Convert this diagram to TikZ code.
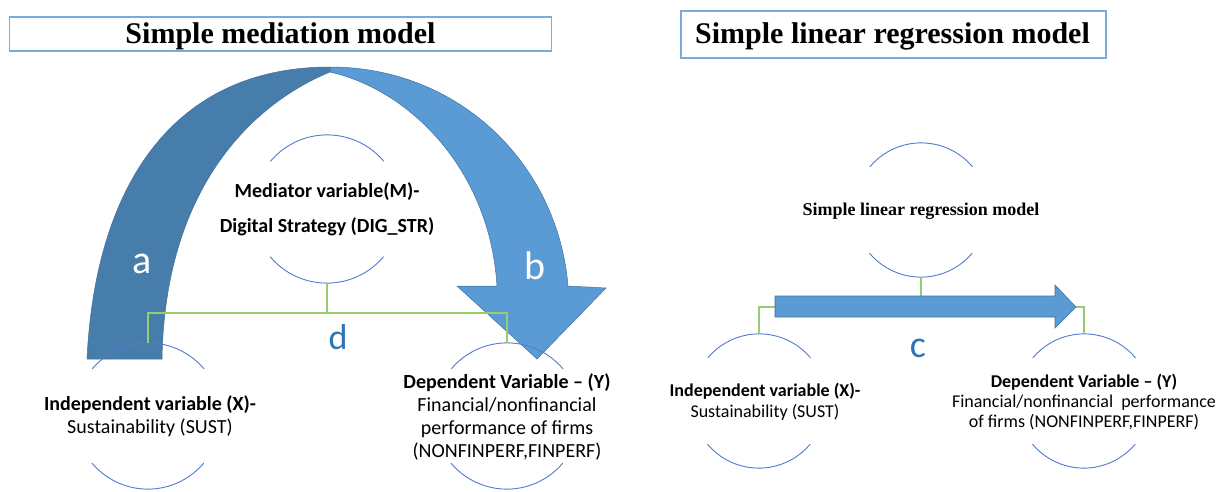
\documentclass[tikz,border=0pt]{standalone}
\usepackage{fontspec}
\setmainfont{Carlito}
\newfontfamily\tnr{Liberation Serif}
\definecolor{darkarc}{RGB}{71,125,171}
\definecolor{lightarc}{RGB}{91,155,213}
\definecolor{edgeblue}{RGB}{65,113,156}
\definecolor{boxblue}{RGB}{125,170,220}
\definecolor{circblue}{RGB}{82,122,205}
\definecolor{conngreen}{RGB}{150,205,110}
\definecolor{letblue}{RGB}{46,117,182}
\newcommand\ringarcs[2]{%
  \draw[arcline] (#1.40) arc[start angle=40,end angle=140,radius=#2];
  \draw[arcline] (#1.220) arc[start angle=220,end angle=320,radius=#2];}
\begin{document}
\begin{tikzpicture}[x=1pt,y=1pt,
  titlebox/.style={draw=boxblue,line width=1.3pt,fill=white,inner sep=0pt},
  titletext/.style={font=\tnr\bfseries\fontsize{30}{36}\selectfont,inner sep=0pt,anchor=base},
  ring/.style={circle,inner sep=0pt,minimum size=#1},
  arcline/.style={draw=circblue,line width=0.9pt},
  conn/.style={draw=conngreen,line width=1.3pt},
  lblL/.style={align=center,font=\fontsize{20}{23}\selectfont,inner sep=0pt},
  lblR/.style={align=center,font=\fontsize{18}{20.5}\selectfont,inner sep=0pt},
  pathlet/.style={font=\fontsize{40}{40}\selectfont,text=white,inner sep=0pt},
  bluelet/.style={font=\fontsize{36}{36}\selectfont,text=letblue,inner sep=0pt},
  bandshape/.style={draw=edgeblue,line width=0.5pt},
]
\useasboundingbox (0,0) rectangle (1227,-491);

% ---------------- titles
\node[titlebox,minimum width=542pt,minimum height=34pt] (tboxL) at (280.75,-34) {};
\node[titletext] (ttL) at (280.5,-43) {Simple mediation model};
\node[titlebox,minimum width=425pt,minimum height=47pt] (tboxR) at (893.5,-34.5) {};
\node[titletext] (ttR) at (892.5,-43) {Simple linear regression model};

% ---------------- left: curved arrow
\path[fill=lightarc,bandshape] (330,-67) .. controls (460,-67) and (558,-165) .. (568,-286)
  -- (606,-288) -- (537,-359) -- (457,-286) -- (497,-286)
  .. controls (490,-170) and (410,-90) .. (330,-72) -- cycle;
\path[fill=darkarc,bandshape] (87,-359) .. controls (95,-190) and (170,-67) .. (330,-67)
  -- (330,-72) .. controls (250,-105) and (165,-190) .. (162,-359) -- cycle;
\node[pathlet] (la) at (142,-264) {a};
\node[pathlet] (lb) at (535,-266) {b};

% ---------------- left: circles
\node[ring=148pt] (M) at (327,-209) {};
\node[ring=146pt] (X) at (148,-416) {};
\node[ring=146pt] (Y) at (507,-416) {};
\ringarcs{M}{74pt}
\ringarcs{X}{73pt}
\ringarcs{Y}{73pt}

\coordinate (jL) at (327,-313);
\draw[conn] (M.south) -- (jL);
\draw[conn] (jL) -| (X.north);
\draw[conn] (jL) -| (Y.north);
\node[bluelet] (ld) at (338,-337) {d};

\node[lblL,font=\bfseries\fontsize{20}{35}\selectfont] (Mt) at (M.center) {Mediator variable(M)-\\Digital Strategy (DIG\_STR)};
\node[lblL] (Xt) at (150,-416.5) {\textbf{Independent variable (X)-}\\Sustainability (SUST)};
\node[lblL,font=\fontsize{20}{22.7}\selectfont] (Yt) at (507,-417) {\textbf{Dependent Variable – (Y)}\\Financial/nonfinancial\\performance of firms\\(NONFINPERF,FINPERF)};

% ---------------- right: circles and connectors
\node[ring=134pt] (MR) at (921,-210) {};
\node[ring=134pt] (XR) at (759,-401) {};
\node[ring=134pt] (YR) at (1084,-401) {};
\ringarcs{MR}{67pt}
\ringarcs{XR}{67pt}
\ringarcs{YR}{67pt}
\coordinate (jR) at (921,-307);
\draw[conn] (MR.south) -- (jR);
\draw[conn] (jR) -| (XR.north);
\draw[conn] (jR) -| (YR.north);

\path[fill=lightarc,draw=edgeblue,line width=0.6pt] (775,-296) -- (1055,-296) -- (1055,-285) -- (1076,-307) -- (1055,-328) -- (1055,-317) -- (775,-317) -- cycle;
\node[bluelet,font=\fontsize{38}{38}\selectfont] (lc) at (918,-348) {c};

\node[inner sep=0pt,font=\tnr\bfseries\fontsize{18}{20}\selectfont] (MRt) at (921,-211) {Simple linear regression model};
\node[lblR] (XRt) at (765,-402) {\textbf{Independent variable (X)-}\\Sustainability (SUST)};
\node[lblR,font=\fontsize{18}{20}\selectfont] (YRt) at (1084,-402) {\textbf{Dependent Variable – (Y)}\\Financial/nonfinancial\ \ performance\\of firms (NONFINPERF,FINPERF)};
\end{tikzpicture}
\end{document}
